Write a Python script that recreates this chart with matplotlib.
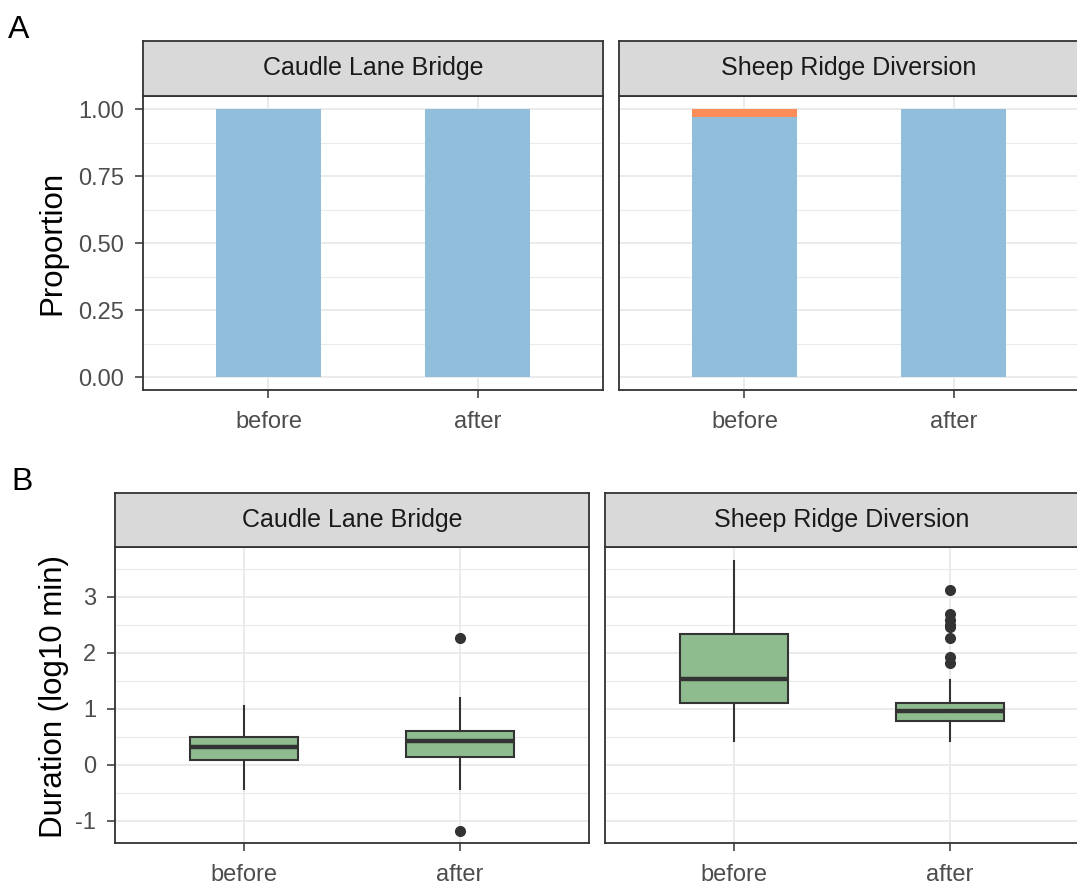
import matplotlib
matplotlib.use('Agg')
import matplotlib.pyplot as plt
from matplotlib.ticker import FixedLocator, FormatStrFormatter

plt.rcParams['font.family'] = ['Liberation Sans', 'DejaVu Sans']
plt.rcParams['axes.unicode_minus'] = False

# categories
sites = ['Caudle Lane Bridge', 'Sheep Ridge Diversion']
periods = ['before', 'after']

# Panel A: stacked proportions (main class / other class), before & after
prop_main_caudle = [1.00, 1.00]
prop_other_caudle = [0.00, 0.00]
prop_main_sheep = [0.97, 1.00]
prop_other_sheep = [0.03, 0.00]

# Panel B: box stats [whisker low, q1, median, q3, whisker high] in log10 min
caudle_before = [-0.43, 0.08, 0.31, 0.50, 1.05]
caudle_after = [-0.43, 0.14, 0.42, 0.61, 1.20]
caudle_before_fliers = []
caudle_after_fliers = [2.26, -1.18]
sheep_before = [0.43, 1.11, 1.53, 2.33, 3.63]
sheep_after = [0.43, 0.79, 0.96, 1.11, 1.51]
sheep_before_fliers = []
sheep_after_fliers = [3.12, 2.69, 2.58, 2.49, 2.45, 2.26, 1.92, 1.81]

W, H = 1077, 888
fig = plt.figure(figsize=(W / 100, H / 100), dpi=100)

DARK = '#333333'
GRID = '#EBEBEB'


def panel(x0, x1, strip_top, top, bottom, title):
    ax = fig.add_axes([x0 / W, 1 - bottom / H, (x1 - x0) / W, (bottom - top) / H])
    sax = fig.add_axes([x0 / W, 1 - top / H, (x1 - x0) / W, (top - strip_top) / H])
    sax.set_facecolor('#D9D9D9')
    sax.set_xticks([])
    sax.set_yticks([])
    for s in sax.spines.values():
        s.set_color(DARK)
        s.set_linewidth(1.3)
    sax.text(0.5, 0.5, title, ha='center', va='center', fontsize=18,
             color='#1A1A1A', transform=sax.transAxes)
    for s in ax.spines.values():
        s.set_color(DARK)
        s.set_linewidth(1.3)
    ax.set_axisbelow(True)
    ax.grid(which='major', color=GRID, lw=1.4)
    ax.grid(which='minor', axis='y', color=GRID, lw=0.8)
    ax.tick_params(length=5.5, width=1.1, color=DARK, labelcolor='#4D4D4D',
                   labelsize=17)
    ax.tick_params(axis='x', pad=9.5)
    ax.tick_params(axis='y', pad=8)
    ax.tick_params(which='minor', length=0)
    ax.set_xlim(0.4, 2.6)
    ax.set_xticks([1, 2])
    ax.set_xticklabels(periods)
    return ax


# ---- Panel A
xpos = [1, 2]
axA1 = panel(143, 603, 41, 95.7, 390.5, sites[0])
axA2 = panel(619, 1079, 41, 95.7, 390.5, sites[1])
for ax, main, other in [(axA1, prop_main_caudle, prop_other_caudle),
                        (axA2, prop_main_sheep, prop_other_sheep)]:
    ax.bar(xpos, main, width=0.5, color='#91BFDB')
    ax.bar(xpos, other, width=0.5, bottom=main, color='#FC8D59')
    ax.set_ylim(-0.05, 1.05)
    ax.yaxis.set_major_locator(FixedLocator([0, 0.25, 0.5, 0.75, 1.0]))
    ax.yaxis.set_minor_locator(FixedLocator([0.125, 0.375, 0.625, 0.875]))
    ax.yaxis.set_major_formatter(FormatStrFormatter('%.2f'))
axA2.tick_params(axis='y', left=False, labelleft=False)

# ---- Panel B
axB1 = panel(115, 589, 493.3, 547.3, 842.7, sites[0])
axB2 = panel(605, 1079, 493.3, 547.3, 842.7, sites[1])


def stats(vals, fliers):
    return dict(whislo=vals[0], q1=vals[1], med=vals[2], q3=vals[3],
                whishi=vals[4], fliers=fliers)


for ax, groups in [(axB1, [(caudle_before, caudle_before_fliers), (caudle_after, caudle_after_fliers)]),
                   (axB2, [(sheep_before, sheep_before_fliers), (sheep_after, sheep_after_fliers)])]:
    ax.bxp([stats(v, f) for v, f in groups], positions=xpos, widths=0.5,
           patch_artist=True, showcaps=False, manage_ticks=False,
           boxprops=dict(facecolor='#8FBC8F', edgecolor=DARK, lw=1.5),
           medianprops=dict(color=DARK, lw=3.2),
           whiskerprops=dict(color=DARK, lw=1.5),
           flierprops=dict(marker='o', markerfacecolor=DARK,
                           markeredgecolor=DARK, markersize=7))
    ax.set_xlim(0.4, 2.6)
    ax.set_ylim(-1.39, 3.88)
    ax.yaxis.set_major_locator(FixedLocator([-1, 0, 1, 2, 3]))
    ax.yaxis.set_minor_locator(FixedLocator([-0.5, 0.5, 1.5, 2.5, 3.5]))
axB2.tick_params(axis='y', left=False, labelleft=False)

# axis titles and panel tags
fig.text(52 / W, 1 - 243 / H, 'Proportion', rotation=90, ha='center',
         va='center', fontsize=22.5)
fig.text(54 / W, 1 - 696 / H, 'Duration (log10 min)', rotation=90,
         ha='center', va='center', fontsize=22.5)
fig.text(8 / W, 1 - 38 / H, 'A', fontsize=23, va='baseline')
fig.text(11 / W, 1 - 490 / H, 'B', fontsize=23, va='baseline')

fig.savefig('out.png', dpi=100)
